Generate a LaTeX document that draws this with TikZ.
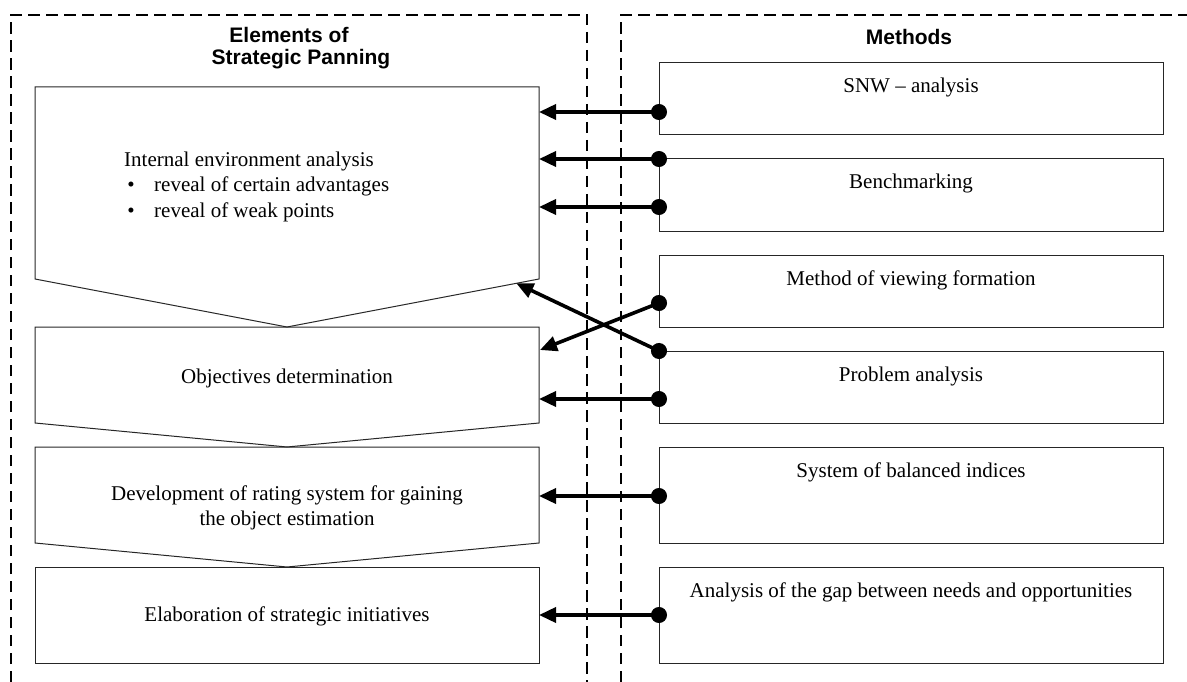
\documentclass[tikz,border=0pt]{standalone}
\usepackage{fontspec}
\setmainfont{Liberation Serif}
\setsansfont{Liberation Sans}
\usetikzlibrary{arrows.meta,calc}
\begin{document}
\begin{tikzpicture}[x=1pt,y=-1pt,
  box/.style={draw=black!85, line width=1pt},
  mbox/.style={box, minimum width=504pt, minimum height=72pt, inner sep=0pt, outer sep=0pt, anchor=north west},
  lbl/.style={font=\fontsize{21}{25}\selectfont, inner sep=0pt, anchor=base},
  lblw/.style={lbl, anchor=base west},
  head/.style={font=\sffamily\bfseries\fontsize{21}{25}\selectfont, inner sep=0pt, anchor=base},
  frame/.style={line width=2.6pt, dash pattern=on 11.5pt off 6.5pt},
  link/.style={line width=3.6pt, {Circle[length=16pt]}-{Triangle[length=17pt,width=15pt]}, shorten <=-8pt},
]
\useasboundingbox (0,0) rectangle (1187,682);

% dashed frames
\draw[frame] (11,682) -- (11,15) -- (587,15) -- (587,682);
\draw[frame] (621,682) -- (621,15) -- (1187,15);

% headers
\node[head] (h1) at (289,43) {Elements of};
\node[head] (h2) at (301,65) {Strategic Panning};
\node[head] (h3) at (909,45) {Methods};

% left elements
\draw[box] (35,87) -- (539,87) -- (539,279) -- (287,327) -- (35,279) -- cycle;
\draw[box] (35,327) -- (539,327) -- (539,423) -- (287,447) -- (35,423) -- cycle;
\draw[box] (35,447) -- (539,447) -- (539,543) -- (287,567) -- (35,543) -- cycle;
\draw[box] (35,567) rectangle (539,663);

\node[lblw] (l1a) at (124,167) {Internal environment analysis};
\node[lbl] (l1b) at (131,192) {\textbullet};
\node[lblw] (l1c) at (154,192) {reveal of certain advantages};
\node[lbl] (l1d) at (131,218) {\textbullet};
\node[lblw] (l1e) at (154,218) {reveal of weak points};
\node[lbl] (l2) at (287,383) {Objectives determination};
\node[lbl] (l3a) at (287,500) {Development of rating system for gaining};
\node[lbl] (l3b) at (287,525) {the object estimation};
\node[lbl] (l4) at (287,621) {Elaboration of strategic initiatives};

% methods
\node[mbox] (m1) at (659,63) {};
\node[mbox] (m2) at (659,159) {};
\node[mbox] (m3) at (659,255) {};
\node[mbox] (m4) at (659,351) {};
\node[mbox, minimum height=96pt] (m5) at (659,447) {};
\node[mbox, minimum height=96pt] (m6) at (659,567) {};

\node[lbl] (t1) at (911,93) {SNW – analysis};
\node[lbl] (t2) at (911,189) {Benchmarking};
\node[lbl] (t3) at (911,285) {Method of viewing formation};
\node[lbl] (t4) at (911,381) {Problem analysis};
\node[lbl] (t5) at (911,477) {System of balanced indices};
\node[lbl] (t6) at (911,597) {Analysis of the gap between needs and opportunities};

% connector end points
\coordinate (s1) at (659,112);
\coordinate (s2) at (659,159);
\coordinate (s3) at (659,207);
\coordinate (s4) at (659,303);
\coordinate (s5) at (659,351);
\coordinate (s6) at (659,399);
\coordinate (s7) at (659,496);
\coordinate (s8) at (659,615);
\coordinate (e1) at (539,112);
\coordinate (e2) at (539,159);
\coordinate (e3) at (539,207);
\coordinate (e4) at (540,350);
\coordinate (e5) at ($(539,279)!0.09!(287,327)$);
\coordinate (e6) at (539,399);
\coordinate (e7) at (539,496);
\coordinate (e8) at (539,615);

\foreach \i in {1,...,8} {\draw[link] (s\i) -- (e\i);}
\end{tikzpicture}
\end{document}
